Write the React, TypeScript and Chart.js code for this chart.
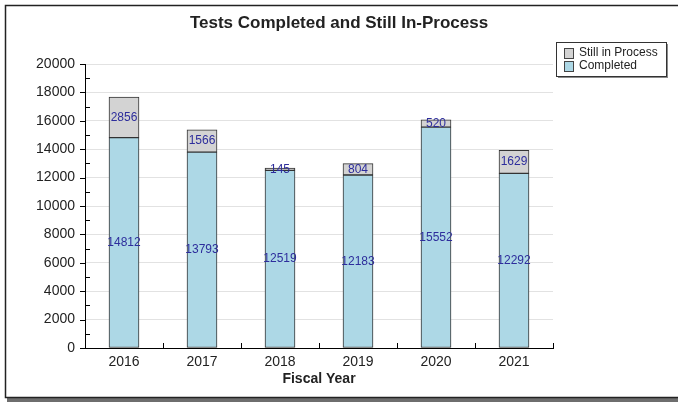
import React, { useEffect, useRef } from "react";
import { Chart, registerables } from "chart.js";

Chart.register(...registerables);

const titleText = "Tests Completed and Still In-Process";
const xTitle = "Fiscal Year";
const years = ["2016", "2017", "2018", "2019", "2020", "2021"];
const completed = [14812, 13793, 12519, 12183, 15552, 12292];
const stillInProcess = [2856, 1566, 145, 804, 520, 1629];
const yMin = 0;
const yMax = 20000;
const yStep = 2000;
const yMinorStep = 1000;

const FONT = "'Liberation Sans', Arial, sans-serif";
const BLUE = "#add8e6";
const GREY = "#d3d3d3";
const EDGE = "#333333";
const LABEL = "#2d2d9c";

const decorPlugin = {
  id: "decor",
  beforeDraw(chart: any) {
    const ctx = chart.ctx;
    const W = chart.width;
    ctx.save();
    ctx.fillStyle = "#ffffff";
    ctx.fillRect(0, 0, W, chart.height);
    ctx.fillStyle = "#6e6e6e";
    ctx.fillRect(7, 398, W, 4);
    ctx.strokeStyle = "#222222";
    ctx.lineWidth = 1.5;
    ctx.strokeRect(5.5, 5.5, W, 392);
    ctx.restore();
  },
  afterDatasetsDraw(chart: any) {
    const ctx = chart.ctx;
    ctx.save();
    ctx.font = `12px ${FONT}`;
    ctx.fillStyle = LABEL;
    ctx.textAlign = "center";
    ctx.textBaseline = "middle";
    chart.data.datasets.forEach((ds: any, di: number) => {
      const meta = chart.getDatasetMeta(di);
      meta.data.forEach((el: any, i: number) => {
        const cy = (el.y + el.base) / 2;
        ctx.fillText(String(ds.data[i]), el.x, cy);
      });
    });
    ctx.restore();
  },
  afterDraw(chart: any) {
    const ctx = chart.ctx;
    const ys = chart.scales.y;
    const xs = chart.scales.x;
    ctx.save();
    ctx.strokeStyle = "#000";
    ctx.lineWidth = 1;
    ctx.beginPath();
    for (let v = yMin; v <= yMax; v += yMinorStep) {
      const py = Math.round(ys.getPixelForValue(v)) + 0.5;
      if (v % yStep === 0) {
        ctx.moveTo(ys.right - 5, py);
        ctx.lineTo(ys.right, py);
      } else {
        ctx.moveTo(ys.right, py);
        ctx.lineTo(ys.right + 5, py);
      }
    }
    const n = years.length;
    for (let k = 0; k <= n; k++) {
      const px = Math.round(xs.left + (k * xs.width) / n) + 0.5;
      ctx.moveTo(px, xs.top);
      ctx.lineTo(px, xs.top - 5);
    }
    ctx.stroke();

    ctx.fillStyle = "#222";
    ctx.font = `bold 17px ${FONT}`;
    ctx.textAlign = "center";
    ctx.textBaseline = "alphabetic";
    ctx.fillText(titleText, 339, 28);

    const lx = 556, ly = 42, lw = 110, lh = 34;
    ctx.fillStyle = "#8a8a8a";
    ctx.fillRect(lx + 2, ly + 2, lw, lh);
    ctx.fillStyle = "#fff";
    ctx.fillRect(lx, ly, lw, lh);
    ctx.strokeStyle = "#333";
    ctx.strokeRect(lx + 0.5, ly + 0.5, lw, lh);
    const items = [
      { label: chart.data.datasets[1].label, color: chart.data.datasets[1].backgroundColor },
      { label: chart.data.datasets[0].label, color: chart.data.datasets[0].backgroundColor },
    ];
    ctx.font = `12px ${FONT}`;
    ctx.textAlign = "left";
    ctx.textBaseline = "middle";
    items.forEach((it, i) => {
      const sy = ly + 6 + i * 13;
      ctx.fillStyle = it.color;
      ctx.fillRect(lx + 8, sy, 9, 10);
      ctx.strokeStyle = "#444";
      ctx.strokeRect(lx + 8.5, sy + 0.5, 9, 10);
      ctx.fillStyle = "#222";
      ctx.fillText(it.label, lx + 23, sy + 5);
    });
    ctx.restore();
  },
};

export default function App() {
  const ref = useRef<HTMLCanvasElement>(null);
  useEffect(() => {
    if (!ref.current) return;
    const chart = new Chart(ref.current, {
      type: "bar",
      data: {
        labels: years,
        datasets: [
          {
            label: "Completed",
            data: completed,
            backgroundColor: BLUE,
            borderColor: EDGE,
            borderWidth: 1,
            borderSkipped: false,
            barThickness: 30,
          },
          {
            label: "Still in Process",
            data: stillInProcess,
            backgroundColor: GREY,
            borderColor: EDGE,
            borderWidth: 1,
            borderSkipped: false,
            barThickness: 30,
          },
        ],
      },
      options: {
        responsive: false,
        animation: false,
        devicePixelRatio: 1,
        layout: { padding: { left: 0, right: 125, top: 64, bottom: 14 } },
        plugins: {
          legend: { display: false },
          title: { display: false },
          tooltip: { enabled: false },
        },
        scales: {
          x: {
            stacked: true,
            grid: { display: false, drawTicks: false },
            border: { color: "#000", width: 1 },
            ticks: { color: "#222", font: { size: 14, family: FONT }, padding: 6 },
            title: {
              display: true,
              text: xTitle,
              color: "#222",
              font: { size: 14, weight: "bold", family: FONT },
              padding: 0,
            },
            afterFit: (s: any) => {
              s.height = 40;
            },
          },
          y: {
            stacked: true,
            min: yMin,
            max: yMax,
            ticks: {
              stepSize: yStep,
              color: "#222",
              font: { size: 14, family: FONT },
              padding: 10,
              callback: (v: any) => String(v),
            },
            grid: { color: "#e2e2e2", drawTicks: false },
            border: { color: "#000", width: 1 },
            afterFit: (s: any) => {
              s.width = 85;
            },
          },
        },
      },
      plugins: [decorPlugin],
    } as any);
    return () => chart.destroy();
  }, []);
  return (
    <div style={{ position: "absolute", left: 0, top: 0, width: 678, height: 402 }}>
      <canvas ref={ref} width={678} height={402} />
    </div>
  );
}
